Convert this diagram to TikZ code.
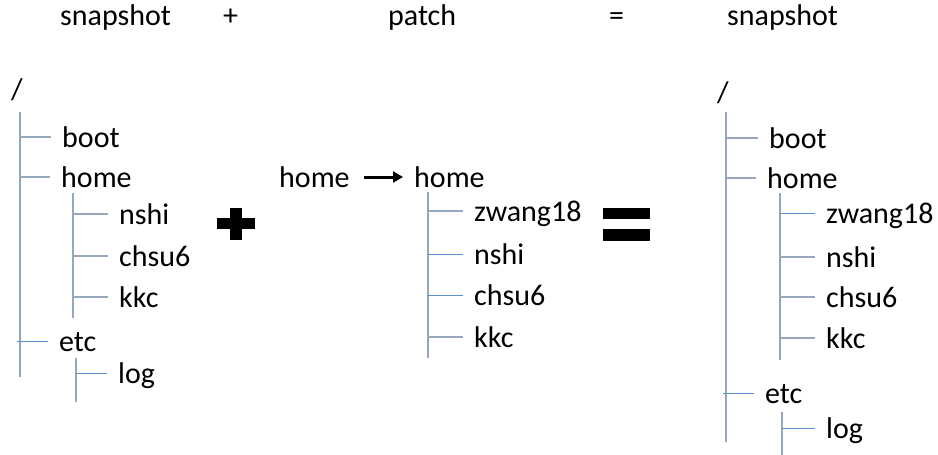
\documentclass[tikz,border=0pt]{standalone}
\usepackage{fontspec}
\setmainfont{Carlito}
\usetikzlibrary{arrows.meta,calc}
\definecolor{treegray}{RGB}{150,168,190}
\definecolor{treeblue}{RGB}{91,143,206}
\begin{document}
\begin{tikzpicture}[x=1pt,y=-1pt,
  every node/.style={font=\fontsize{30}{36}\selectfont, inner sep=0pt},
  item/.style={anchor=west, text height=26pt, text depth=6pt},
  titletext/.style={anchor=base west},
  trunk/.style={treegray, line width=1.4pt},
  twig/.style={treegray, line width=1.4pt, shorten >=11pt},
  twigb/.style={treeblue, line width=1pt, shorten >=11pt},
  bar/.style={fill=black},
]
\useasboundingbox (0,0) rectangle (938,455);

% titles
\node[titletext] (t1) at (60,25) {snapshot};
\node[titletext] (t2) at (223,25) {+};
\node[titletext] (t3) at (388,25) {patch};
\node[titletext] (t4) at (609,25) {=};
\node[titletext] (t5) at (727,25) {snapshot};

% ---------- left tree ----------
\node (r1) at (17,90) {/};
\coordinate (a0) at (20,112);
\coordinate (a1) at (20,377);
\draw[trunk] (a0) -- (a1);
\node[item] (boot1) at (62,137) {boot};
\node[item] (home1) at (61,177) {home};
\node[item] (etc1) at (59,341) {etc};
\draw[twig] (boot1.west -| a0) -- (boot1.west);
\draw[twig] (home1.west -| a0) -- (home1.west);
\draw[twigb] ($(etc1.west -| a0)+(-3,0)$) -- (etc1.west);

\coordinate (b0) at (73,193);
\coordinate (b1) at (73,318);
\draw[trunk] (b0) -- (b1);
\node[item] (nshi1) at (119,214) {nshi};
\node[item] (chsu1) at (119,256) {chsu6};
\node[item] (kkc1) at (119,297) {kkc};
\draw[twig] (nshi1.west -| b0) -- (nshi1.west);
\draw[twig] (chsu1.west -| b0) -- (chsu1.west);
\draw[twig] (kkc1.west -| b0) -- (kkc1.west);

\coordinate (c0) at (76,358);
\coordinate (c1) at (76,402);
\draw[trunk] (c0) -- (c1);
\node[item] (log1) at (118,373) {log};
\draw[twigb] (log1.west -| c0) -- (log1.west);

% plus sign
\fill[bar] (217,218) rectangle (255,229);
\fill[bar] (230,208) rectangle (242,240);

% ---------- middle (patch) ----------
\node[item] (homeA) at (279,177) {home};
\node[item] (homeB) at (414,177) {home};
\draw[line width=3pt, -{Triangle[length=10pt,width=11pt]}, shorten <=14pt, shorten >=11pt]
  (homeA.east) -- (homeB.west);

\coordinate (d0) at (428,192);
\coordinate (d1) at (428,358);
\draw[trunk] (d0) -- (d1);
\node[item] (zw2) at (474,211) {zwang18};
\node[item] (nshi2) at (474,254) {nshi};
\node[item] (chsu2) at (474,295) {chsu6};
\node[item] (kkc2) at (474,337) {kkc};
\draw[twig] (zw2.west -| d0) -- (zw2.west);
\draw[twigb] (nshi2.west -| d0) -- (nshi2.west);
\draw[twigb] (chsu2.west -| d0) -- (chsu2.west);
\draw[twig] (kkc2.west -| d0) -- (kkc2.west);

% equals sign
\fill[bar] (603,208) rectangle (650,219);
\fill[bar] (603,229) rectangle (650,241);

% ---------- right tree ----------
\node (r3) at (723,93) {/};
\coordinate (e0) at (726,112);
\coordinate (e1) at (726,442);
\draw[trunk] (e0) -- (e1);
\node[item] (boot3) at (769,138) {boot};
\node[item] (home3) at (767,178) {home};
\node[item] (etc3) at (765,393) {etc};
\draw[twig] (boot3.west -| e0) -- (boot3.west);
\draw[twig] (home3.west -| e0) -- (home3.west);
\draw[twigb] ($(etc3.west -| e0)+(-3,0)$) -- (etc3.west);

\coordinate (f0) at (780,193);
\coordinate (f1) at (780,360);
\draw[trunk] (f0) -- (f1);
\node[item] (zw3) at (826,213) {zwang18};
\node[item] (nshi3) at (826,257) {nshi};
\node[item] (chsu3) at (826,297) {chsu6};
\node[item] (kkc3) at (826,338) {kkc};
\draw[twigb] (zw3.west -| f0) -- (zw3.west);
\draw[twig] (nshi3.west -| f0) -- (nshi3.west);
\draw[twig] (chsu3.west -| f0) -- (chsu3.west);
\draw[twig] (kkc3.west -| f0) -- (kkc3.west);

\coordinate (g0) at (782,412);
\coordinate (g1) at (782,455);
\draw[trunk] (g0) -- (g1);
\node[item] (log3) at (826,428) {log};
\draw[twigb] (log3.west -| g0) -- (log3.west);
\end{tikzpicture}
\end{document}
